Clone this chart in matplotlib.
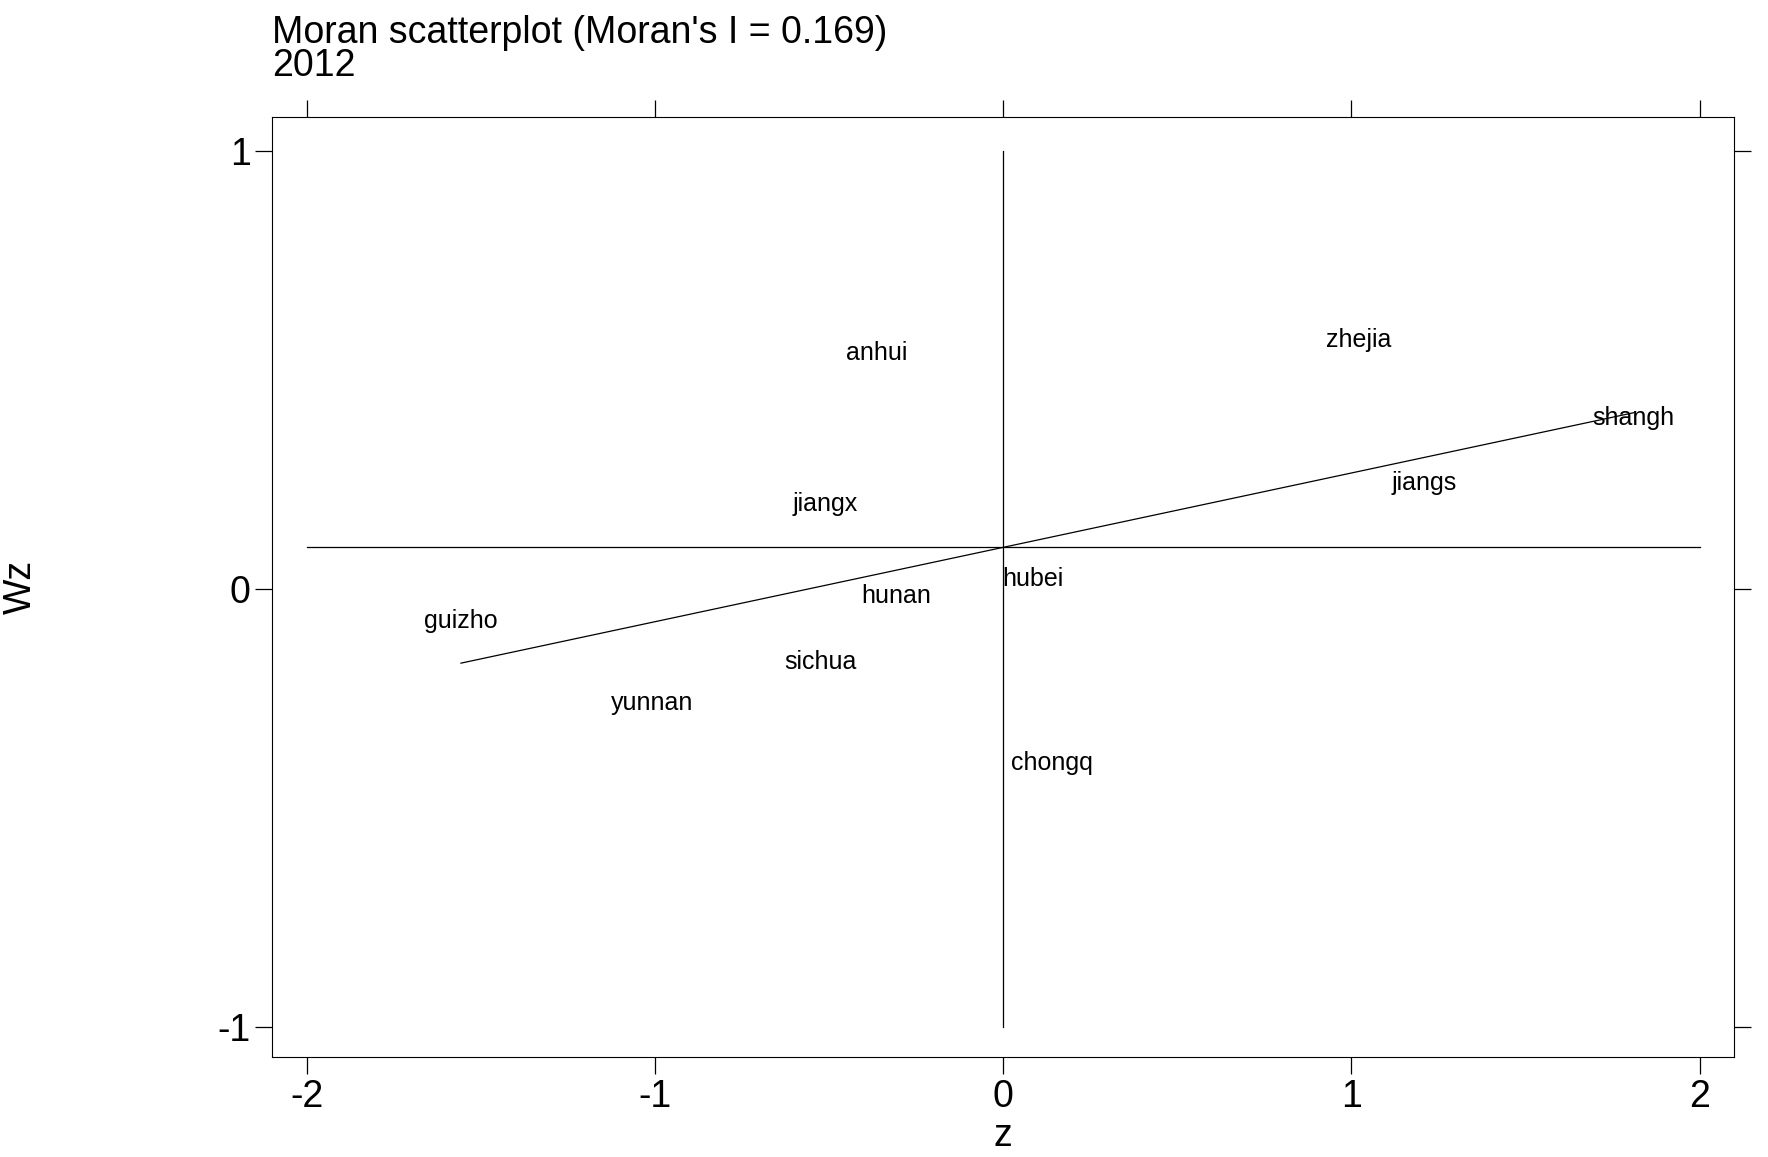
import matplotlib
matplotlib.use("Agg")
import matplotlib.pyplot as plt
import numpy as np

plt.rcParams['font.family'] = ['Liberation Sans', 'DejaVu Sans']
plt.rcParams['axes.unicode_minus'] = False

names = ["anhui", "zhejia", "shangh", "jiangs", "jiangx", "hubei",
         "hunan", "guizho", "sichua", "yunnan", "chongq"]
z = np.array([-0.363, 1.021, 1.810, 1.208, -0.511, 0.085,
              -0.308, -1.558, -0.524, -1.008, 0.141])
wz = np.array([0.539, 0.568, 0.391, 0.242, 0.195, 0.023,
               -0.016, -0.073, -0.167, -0.260, -0.398])
moran_i = 0.169

fig = plt.figure(figsize=(17.68, 11.57), dpi=100)
ax = fig.add_axes([0.154, 0.086, 0.827, 0.813])

for n, x, y in zip(names, z, wz):
    ax.text(x, y, n, ha="center", va="center", fontsize=18)

# regression line through data
slope, icpt = np.polyfit(z, wz, 1)
xs = np.array([z.min(), z.max()])
ax.plot(xs, icpt + slope * xs, color="black", lw=0.9)

ax.plot([-2, 2], [wz.mean(), wz.mean()], color="black", lw=0.9)
ax.plot([0, 0], [-1, 1], color="black", lw=0.9)

ax.set_xlim(-2.1, 2.1)
ax.set_ylim(-1.07, 1.078)
ax.set_xticks([-2, -1, 0, 1, 2])
ax.set_yticks([-1, 0, 1])
ax.tick_params(direction="out", length=12, width=0.9, labelsize=27,
               top=True, right=True, labeltop=False, labelright=False)
ax.set_xlabel("z", fontsize=27, labelpad=2)
ax.set_ylabel("Wz", fontsize=27)
ax.yaxis.set_label_coords(-0.16, 0.5)

fig.text(0.154, 0.927, f"Moran scatterplot (Moran's I = {moran_i:.3f})\n2012",
         fontsize=27, ha="left", va="bottom", linespacing=0.9)

plt.savefig("out.png", dpi=100)
